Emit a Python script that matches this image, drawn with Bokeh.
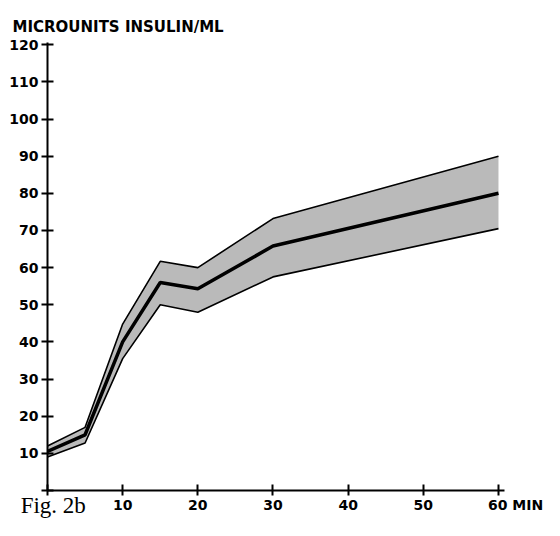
from bokeh.plotting import figure
from bokeh.models import FixedTicker, Range1d, Title
from bokeh.embed import file_html
from bokeh.resources import INLINE

minutes = [0, 5, 10, 15, 20, 30, 60]
mean_insulin = [10.5, 15, 40, 56, 54.3, 65.8, 80]
upper_insulin = [12, 17, 44.8, 61.7, 60, 73.2, 90]
lower_insulin = [9, 12.8, 35.5, 50, 48, 57.5, 70.5]
x_ticks = [0, 10, 20, 30, 40, 50, 60]
NB = "\u00a0"
x_tick_labels = {0: "", 10: "10", 20: "20", 30: "30", 40: "40", 50: "50",
                 60: NB * 7 + "60" + NB + "MIN"}
y_ticks = [0, 10, 20, 30, 40, 50, 60, 70, 80, 90, 100, 110, 120]
y_tick_labels = {0: ""}
y_tick_labels.update({v: str(v) for v in y_ticks if v})

p = figure(width=544, height=520, output_backend="svg", toolbar_location=None,
           x_range=Range1d(0, 60.8), y_range=Range1d(0, 120.6),
           min_border_left=47, min_border_right=40, min_border_top=42, min_border_bottom=22)
p.outline_line_color = None
p.grid.visible = False
p.background_fill_color = "white"

p.title = Title(text="MICROUNITS INSULIN/ML", align="left", offset=-35,
                text_font="DejaVu Sans", text_font_style="bold", text_font_size="15px",
                text_color="black", vertical_align="top")

band_x = minutes + minutes[::-1]
band_y = upper_insulin + lower_insulin[::-1]
p.patch(band_x, band_y, fill_color="#bababa", line_color=None)
p.line(minutes, upper_insulin, line_color="black", line_width=1.6)
p.line(minutes, lower_insulin, line_color="black", line_width=1.6)
p.line(minutes, mean_insulin, line_color="black", line_width=3.5)

for ax in (p.xaxis[0], p.yaxis[0]):
    ax.axis_line_width = 2
    ax.major_tick_line_width = 2
    ax.major_tick_in = 6
    ax.major_tick_out = 6
    ax.minor_tick_line_color = None
    ax.major_label_text_font = "DejaVu Sans"
    ax.major_label_text_font_style = "bold"
    ax.major_label_text_font_size = "14px"
    ax.major_label_text_color = "black"

p.xaxis.ticker = FixedTicker(ticks=x_ticks)
p.xaxis.major_label_overrides = x_tick_labels
p.xaxis.major_label_standoff = 1
p.xaxis.major_tick_out = 5
p.xaxis.axis_label = NB * 2 + "Fig. 2b"
p.xaxis.axis_label_text_font = "Liberation Serif"
p.xaxis.axis_label_text_font_style = "normal"
p.xaxis.axis_label_text_font_size = "23px"
p.xaxis.axis_label_text_color = "black"
p.xaxis.axis_label_align = "start"
p.xaxis.axis_label_standoff = -23
p.yaxis.ticker = FixedTicker(ticks=y_ticks)
p.yaxis.major_label_overrides = y_tick_labels
p.yaxis.major_label_standoff = 3

open("out.html", "w").write(file_html(p, INLINE))
